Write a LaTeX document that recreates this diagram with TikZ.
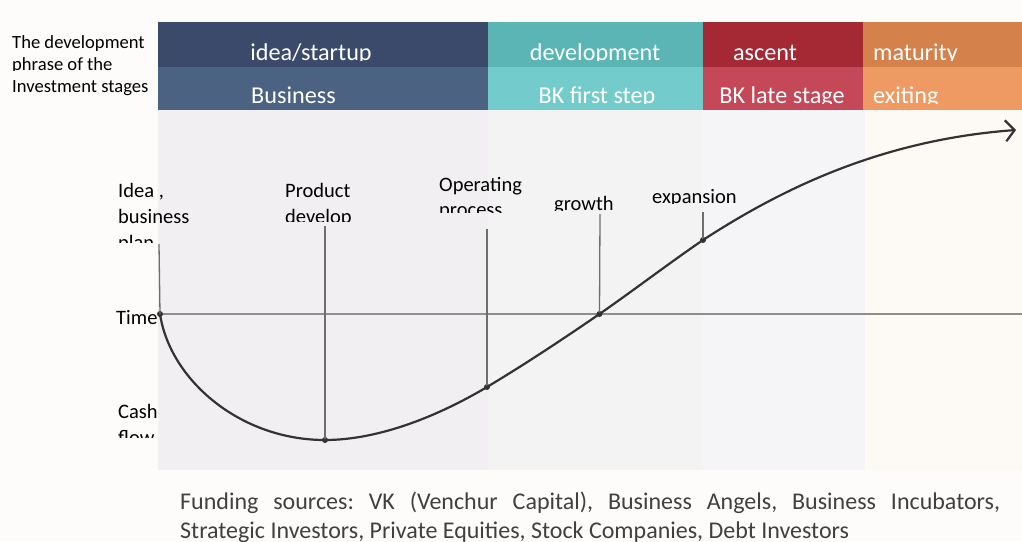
\documentclass[tikz,border=0pt]{standalone}
\usepackage{fontspec}
\setmainfont{Carlito}
\usetikzlibrary{arrows.meta}
\frenchspacing
\definecolor{bgc}{HTML}{FDFCFA}
\definecolor{navyT}{HTML}{3B4A6B}
\definecolor{navyB}{HTML}{4B6283}
\definecolor{tealT}{HTML}{5BB5B5}
\definecolor{tealB}{HTML}{73CBCB}
\definecolor{redT}{HTML}{A52835}
\definecolor{redB}{HTML}{C44858}
\definecolor{oraT}{HTML}{D5814B}
\definecolor{oraB}{HTML}{EE9A62}
\definecolor{panA}{HTML}{F1EFF1}
\definecolor{panB}{HTML}{F3F3F3}
\definecolor{panC}{HTML}{F5F5F8}
\definecolor{panD}{HTML}{FDF9F5}
\definecolor{curvec}{HTML}{333333}
\definecolor{vgray}{HTML}{6E6E6E}
\definecolor{axgray}{HTML}{8E8E8E}
\definecolor{foot}{HTML}{404040}
\tikzset{
  hdr/.style={font=\fontsize{24.2}{28}\selectfont, text=white, inner sep=0pt, anchor=base},
  hdrw/.style={font=\fontsize{24.2}{28}\selectfont, text=white, inner sep=0pt, anchor=base west},
  lbl/.style={font=\fontsize{20.5}{25}\selectfont, text=black, inner sep=0pt, anchor=base west},
  side/.style={font=\fontsize{18.6}{22}\selectfont, text=black, inner sep=0pt, anchor=base west},
  foottxt/.style={font=\fontsize{24}{28}\selectfont\frenchspacing, text=foot, inner sep=0pt, anchor=base west},
  vline/.style={draw=vgray, line width=1.3pt},
  axisline/.style={draw=axgray, line width=2pt},
  dot/.style={circle, fill=curvec, inner sep=0pt, minimum size=6pt},
  curveline/.style={draw=curvec, line width=2.2pt},
}
\begin{document}
\begin{tikzpicture}[x=1pt,y=-1pt]
\useasboundingbox (0,0) rectangle (1022,541);
\fill[bgc] (0,0) rectangle (1022,541);
% panel
\fill[panA] (158,110) rectangle (488,470);
\fill[panB] (488,110) rectangle (703,470);
\fill[panC] (703,110) rectangle (865,470);
\fill[panD] (865,110) rectangle (1022,470);
% header cells
\fill[navyT] (158,22) rectangle (488,67);
\fill[navyB] (158,67) rectangle (488,110);
\fill[tealT] (488,22) rectangle (703,67);
\fill[tealB] (488,67) rectangle (703,110);
\fill[redT] (703,22) rectangle (863,67);
\fill[redB] (703,67) rectangle (863,110);
\fill[oraT] (863,22) rectangle (1022,67);
\fill[oraB] (863,67) rectangle (1022,110);
% header texts (clipped)
\begin{scope}
  \clip (150,22) rectangle (1022,60);
  \node[hdr] (h1) at (311,60) {idea/startup};
  \node[hdr] (h2) at (595,60) {development};
  \node[hdr] (h3) at (765,60) {ascent};
  \node[hdrw] (h4) at (873,60) {maturity};
\end{scope}
\begin{scope}
  \clip (150,67) rectangle (1022,103.8);
  \node[hdrw] (b1) at (251,103.5) {Business};
  \node[hdr] (b2) at (597,103.5) {BK first step};
  \node[hdr] (b3) at (782,103.5) {BK late stage};
  \node[hdrw] (b4) at (873,103.5) {exiting};
\end{scope}
% side label
\node[side] (s1) at (12,48.3) {The development};
\begin{scope}
  \clip (0,50) rectangle (156,70.7);
  \node[side] (s2) at (12,70.7) {phrase of the};
\end{scope}
\node[side] (s3) at (12,92.7) {Investment stages};
% axis
\coordinate (axL) at (158,314);
\coordinate (axR) at (1022,314);
\draw[axisline] (axL) -- (axR);
% points
\node[dot] (p0) at (160,314) {};
\node[dot] (p1) at (325,440) {};
\node[dot] (p2) at (487,387) {};
\node[dot] (p3) at (599.5,314) {};
\node[dot] (p4) at (703,240) {};
\coordinate (pend) at (1016,130);
% vertical lines
\coordinate (v0) at (159,244);
\coordinate (v1) at (325,226);
\coordinate (v2) at (487,229);
\coordinate (v3) at (600,214);
\coordinate (v4) at (703,212);
\draw[vline] (v0) -- (p0.center);
\draw[vline] (v1) -- (p1.center);
\draw[vline] (v2) -- (p2.center);
\draw[vline] (v3) -- (p3.center);
\draw[vline] (v4) -- (p4.center);
% curve
\draw[curveline, -{Straight Barb[length=9pt,width=21pt,line width=2.2pt]}]
  (p0.center) .. controls (170,380) and (240,440) .. (p1.center)
  .. controls (380,440) and (440,415) .. (p2.center)
  .. controls (527,363) and (563,339) .. (p3.center)
  .. controls (634,290) and (668,264) .. (p4.center)
  .. controls (780,190) and (880,140) .. (pend);
% labels
\node[lbl] (l1a) at (118,197) {Idea ,};
\node[lbl] (l1b) at (118,223) {business};
\begin{scope}
  \clip (100,226) rectangle (200,242);
  \node[lbl] (l1c) at (118,249) {plan};
\end{scope}
\node[lbl] (l2a) at (285,197) {Product};
\begin{scope}
  \clip (270,201) rectangle (400,221.5);
  \node[lbl] (l2b) at (285,223) {develop};
\end{scope}
\node[lbl] (l3a) at (439,191) {Operating};
\begin{scope}
  \clip (430,195) rectangle (560,212.5);
  \node[lbl] (l3b) at (439,216.5) {process};
\end{scope}
\begin{scope}
  \clip (540,180) rectangle (640,210);
  \node[lbl] (l4) at (554,210.5) {growth};
\end{scope}
\begin{scope}
  \clip (640,170) rectangle (760,203);
  \node[lbl] (l5) at (652,203.5) {expansion};
\end{scope}
\node[lbl] (lt) at (116,324) {Time};
\node[lbl] (lc1) at (118,418) {Cash};
\begin{scope}
  \clip (100,422) rectangle (200,437);
  \node[lbl] (lc2) at (118,444) {flow};
\end{scope}
% footer
\node[foottxt] (f1) at (180,509) {\makebox[820pt][s]{Funding sources: VK (Venchur Capital), Business Angels, Business Incubators,}};
\begin{scope}
  \clip (170,515) rectangle (1022,541);
  \node[foottxt] (f2) at (180,538) {Strategic Investors, Private Equities, Stock Companies, Debt Investors};
\end{scope}
\end{tikzpicture}
\end{document}
